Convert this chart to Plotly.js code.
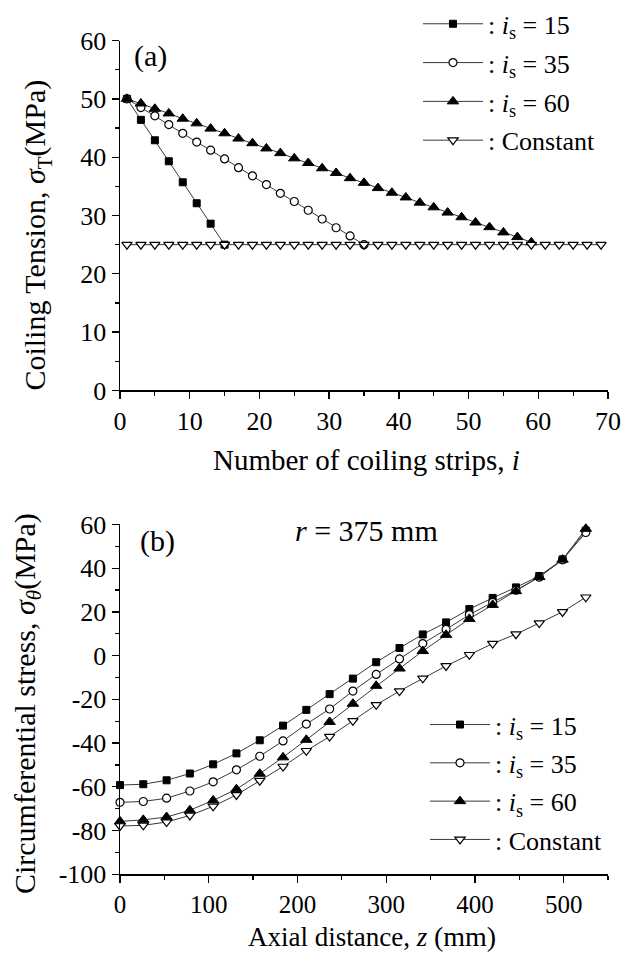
<!DOCTYPE html>
<html><head><meta charset="utf-8">
<script src="https://cdn.plot.ly/plotly-3.0.1.min.js"></script>
<style>html,body{margin:0;padding:0;background:#fff}#chart{width:632px;height:954px}</style>
</head><body><div id="chart"></div>
<script>
// ---- Panel (a): coiling tension vs number of strips ----
const stripsIs15 = [1,3,5,7,9,11,13,15];
const tensionIs15 = [50,46.4,42.9,39.3,35.7,32.1,28.6,25];
const stripsIs35 = [1,3,5,7,9,11,13,15,17,19,21,23,25,27,29,31,33,35];
const tensionIs35 = [50,48.5,47.1,45.6,44.1,42.6,41.2,39.7,38.2,36.8,35.3,33.8,32.4,30.9,29.4,27.9,26.5,25];
const stripsIs60 = [1,3,5,7,9,11,13,15,17,19,21,23,25,27,29,31,33,35,37,39,41,43,45,47,49,51,53,55,57,59];
const tensionIs60 = [50,49.2,48.3,47.5,46.6,45.8,44.9,44.1,43.2,42.4,41.5,40.7,39.8,39.0,38.1,37.3,36.4,35.6,34.7,33.9,33.1,32.2,31.4,30.5,29.7,28.8,28.0,27.1,26.3,25.4];
const stripsConst = [1,3,5,7,9,11,13,15,17,19,21,23,25,27,29,31,33,35,37,39,41,43,45,47,49,51,53,55,57,59,61,63,65,67,69];
const tensionConst = [25,25,25,25,25,25,25,25,25,25,25,25,25,25,25,25,25,25,25,25,25,25,25,25,25,25,25,25,25,25,25,25,25,25,25];

// ---- Panel (b): circumferential stress vs axial distance (r = 375 mm) ----
const axialZ = [0,26.25,52.5,78.75,105,131.25,157.5,183.75,210,236.25,262.5,288.75,315,341.25,367.5,393.75,420,446.25,472.5,498.75,525];
const stressIs15 = [-59.2,-58.8,-57.0,-53.9,-49.7,-44.7,-38.7,-32.0,-24.8,-17.6,-10.5,-3.0,3.5,9.7,15.2,21.3,26.4,31.2,36.4,44.0,57.2];
const stressIs35 = [-67.1,-66.7,-65.2,-61.9,-57.7,-52.2,-46.0,-39.0,-31.3,-24.4,-16.2,-8.6,-1.5,5.5,12.0,18.7,24.4,29.9,35.9,43.8,56.3];
const stressIs60 = [-75.8,-75.1,-73.8,-70.7,-66.2,-61.1,-54.0,-46.5,-38.5,-30.3,-22.0,-13.8,-5.9,2.1,9.5,16.8,23.2,29.5,36.0,43.9,58.0];
const stressConst = [-77.9,-77.6,-76.1,-73.1,-68.9,-63.7,-57.2,-50.7,-43.5,-37.0,-29.8,-22.5,-16.2,-10.4,-4.7,0.4,5.5,9.8,14.9,20.0,26.7];

// tick labels of panel (b) stress axis (hyphen minus as in the original)
const stressTickVals = [-100,-80,-60,-40,-20,0,20,40,60];
const stressTickText = ['-100','-80','-60','-40','-20','0','20','40','60'];

const seriesNames = [': <i>i</i><sub>s</sub> = 15', ': <i>i</i><sub>s</sub> = 35', ': <i>i</i><sub>s</sub> = 60', ': Constant'];

const FONT = 'Liberation Serif';
const LINE = {color:'#3a3a3a', width:1};
const markers = [
  {symbol:'square', size:7, color:'#000', line:{color:'#000', width:1}},
  {symbol:'circle', size:8, color:'#fff', line:{color:'#000', width:1.2}},
  {symbol:'triangle-up', size:10, color:'#000', line:{color:'#000', width:1}},
  {symbol:'triangle-down', size:9, color:'#fff', line:{color:'#000', width:1.2}}
];

function tr(x, y, k, xa, ya, leg) {
  return {x:x, y:y, type:'scatter', mode:'lines+markers', name:seriesNames[k],
    line:LINE, marker:markers[k], xaxis:xa, yaxis:ya, legend:leg,
    legendgroup:leg+k, cliponaxis:false};
}

const data = [
  tr(stripsIs15, tensionIs15, 0, 'x', 'y', 'legend'),
  tr(stripsIs35, tensionIs35, 1, 'x', 'y', 'legend'),
  tr(stripsIs60, tensionIs60, 2, 'x', 'y', 'legend'),
  tr(stripsConst, tensionConst, 3, 'x', 'y', 'legend'),
  tr(axialZ, stressIs15, 0, 'x2', 'y2', 'legend2'),
  tr(axialZ, stressIs35, 1, 'x2', 'y2', 'legend2'),
  tr(axialZ, stressIs60, 2, 'x2', 'y2', 'legend2'),
  tr(axialZ, stressConst, 3, 'x2', 'y2', 'legend2')
];

const W = 632, H = 954;
const px = v => v / W, py = v => 1 - v / H;

function axisBase(extra) {
  return Object.assign({
    showline:true, linecolor:'#000', linewidth:1.5, mirror:false,
    showgrid:false, zeroline:false, ticks:'outside', ticklen:7, tickwidth:1.3, tickcolor:'#000',
    tickfont:{family:FONT, size:26, color:'#000'}, fixedrange:true
  }, extra);
}
const minorOf = d => ({dtick:d, ticks:'outside', ticklen:4, tickwidth:1.2, tickcolor:'#000'});

const legendFont = {family:FONT, size:26, color:'#000'};
function ann(x, y, text, size, extra) {
  return Object.assign({xref:'paper', yref:'paper', x:px(x), y:py(y), text:text, showarrow:false,
    xanchor:'center', yanchor:'middle', font:{family:FONT, size:size, color:'#000'}}, extra || {});
}

const layout = {
  width:W, height:H, margin:{l:0, r:0, t:0, b:0},
  paper_bgcolor:'#fff', plot_bgcolor:'rgba(0,0,0,0)', showlegend:true,
  font:{family:FONT, color:'#000'},
  xaxis: axisBase({domain:[px(120), px(608)], range:[0,70], dtick:10, anchor:'y', minor:minorOf(5)}),
  yaxis: axisBase({domain:[py(379), py(22)], range:[0,60], dtick:10, anchor:'x', minor:minorOf(5)}),
  xaxis2: axisBase({domain:[px(120), px(608)], range:[0,550], dtick:100, anchor:'y2', minor:minorOf(50),
    tickfont:{family:FONT, size:25, color:'#000'}}),
  yaxis2: axisBase({domain:[py(872.7), py(515.7)], range:[-100,60], anchor:'x2',
    tickmode:'array', tickvals:stressTickVals, ticktext:stressTickText, minor:minorOf(10)}),
  legend: {x:px(418), y:py(-19), xanchor:'left', yanchor:'top', bgcolor:'rgba(255,255,255,0.9)',
    font:legendFont, tracegroupgap:2, itemwidth:60},
  legend2: {x:px(425), y:py(696), xanchor:'left', yanchor:'top', bgcolor:'rgba(255,255,255,0.9)',
    font:legendFont, tracegroupgap:1.5, itemwidth:60},
  annotations: [
    ann(150, 38, '(a)', 30),
    ann(157, 533, '(b)', 30),
    ann(366, 522, '<i>r</i> = 375 mm', 30),
    ann(366, 450, 'Number of coiling strips, <i>i</i>', 29),
    ann(372, 953, 'Axial distance, <i>z</i> <span style="font-size:28px">(mm)</span>', 27, {yanchor:'bottom', borderpad:0}),
    ann(37, 221, 'Coiling Tension, <i>σ</i><sub>T</sub>(MPa)', 30, {textangle:-90}),
    ann(27, 699, 'Circumferential stress, <i>σ</i><sub><i>θ</i></sub>(MPa)', 30, {textangle:-90})
  ]
};

Plotly.newPlot('chart', data, layout, {displayModeBar:false, staticPlot:true});
</script></body></html>
